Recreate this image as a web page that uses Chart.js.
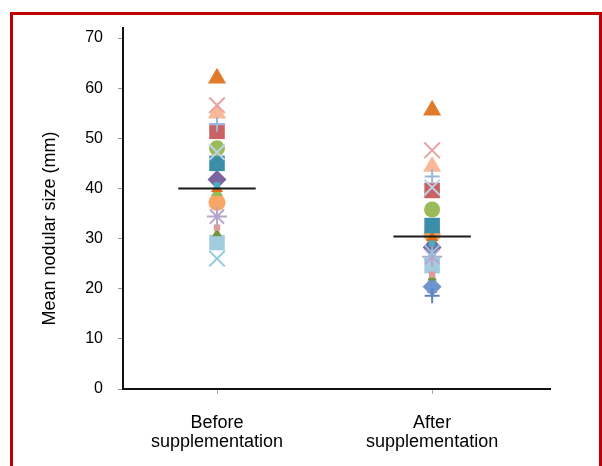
<!DOCTYPE html>
<html>
<head>
<meta charset="utf-8">
<script src="https://cdn.jsdelivr.net/npm/chart.js@4"></script>
<style>
    html, body { margin: 0; padding: 0; background: #fff; }
    #wrap { position: relative; width: 602px; height: 466px; overflow: hidden; }
    #frame {
        position: absolute; left: 10px; top: 12px; width: 592px; height: 470px;
        border: 3px solid #c00000; box-sizing: border-box; pointer-events: none;
    }
</style>
</head>
<body>
<div id="wrap">
    <canvas id="chart" width="602" height="466"></canvas>
    <div id="frame"></div>
</div>
<script>
// Mean nodular size, before vs after supplementation (one marker per subject)

const categoryLabels = [['Before', 'supplementation'], ['After', 'supplementation']];
const yTitle = 'Mean nodular size (mm)';
const yTicks = [0, 10, 20, 30, 40, 50, 60, 70];

// listed top-most first (Chart.js draws dataset 0 last)
const beforeValues = [52.8, 56.6, 47.2, 26.0, 34.4, null, 62.0, 55.0, 51.4, 48.0, 45.0, 40.6, 40.0, 41.8, 39.2, 37.2, 32.2, 31.0, 29.2, null, null];
const afterValues  = [42.4, 47.6, 40.2, 27.2, 26.4, 18.6, 55.6, 44.4, 39.6, 35.8, 32.6, 29.0, 30.2, 28.2, 29.6, 30.8, 22.8, 22.2, 24.6, 20.4, 19.8];
const medianValues = [40.0, 30.4];

const markerShapes = ['cross', 'crossRot', 'crossRot', 'crossRot', 'star', 'cross', 'triangle', 'triangle', 'rect', 'circle',
    'rect', 'rect', 'triangle', 'rectRot', 'triangle', 'circle', 'rect', 'triangle', 'rect', 'rectRot', 'triangle'];
const markerColors = ['#9ab7db', '#e8a3a3', '#bcd2ea', '#8fcadb', '#b6a6cb', '#5d82c2', '#e07b2b', '#fab896', '#c96363', '#9bbb59',
    '#3b8ea8', '#4bacc6', '#e36f1a', '#7b64a0', '#9bbb59', '#f9a665', '#dd9a98', '#77933c', '#a2cce0', '#6e95ce', '#c0504d'];
const markerSizes = [7.5, 11, 11, 11, 10, 7.5, 10.5, 10.5, 11, 8, 11, 4.5, 7, 9.5, 7, 8.5, 4.5, 5.5, 11, 9.5, 6];

const lineShapes = ['cross', 'crossRot', 'star'];
const medianHalfWidth = 0.18;

Chart.defaults.font.family = '"Liberation Sans", Arial, sans-serif';
Chart.defaults.color = '#000';

const datasets = [];

medianValues.forEach((m, i) => {
    datasets.push({
        type: 'line',
        data: [{ x: i + 1 - medianHalfWidth, y: m }, { x: i + 1 + medianHalfWidth, y: m }],
        borderColor: '#1a1a1a',
        borderWidth: 2,
        pointRadius: 0,
    });
});

beforeValues.forEach((b, i) => {
    const isLine = lineShapes.includes(markerShapes[i]);
    datasets.push({
        type: 'scatter',
        data: [{ x: 1, y: b }, { x: 2, y: afterValues[i] }],
        pointStyle: markerShapes[i],
        pointRadius: markerSizes[i],
        pointHoverRadius: markerSizes[i],
        backgroundColor: markerColors[i],
        borderColor: markerColors[i],
        borderWidth: isLine ? 2 : 0,
    });
});

const yTitlePlugin = {
    id: 'yTitle',
    afterDraw(chart) {
        const ctx = chart.ctx;
        const midY = (chart.chartArea.top + chart.chartArea.bottom) / 2 + 20;
        ctx.save();
        ctx.translate(50, midY);
        ctx.rotate(-Math.PI / 2);
        ctx.font = '18px "Liberation Sans", Arial, sans-serif';
        ctx.fillStyle = '#000';
        ctx.textAlign = 'center';
        ctx.textBaseline = 'middle';
        ctx.fillText(yTitle, 0, 0);
        ctx.restore();
    }
};

new Chart(document.getElementById('chart'), {
    data: { datasets },
    plugins: [yTitlePlugin],
    options: {
        responsive: false,
        animation: false,
        layout: { padding: { top: 28, right: 52, bottom: 0, left: 0 } },
        plugins: { legend: { display: false }, tooltip: { enabled: false } },
        scales: {
            x: {
                type: 'linear',
                min: 0.563,
                max: 2.548,
                afterBuildTicks: scale => { scale.ticks = [{ value: 1 }, { value: 2 }]; },
                afterFit: scale => { scale.height = 77; },
                ticks: {
                    callback: v => categoryLabels[Math.round(v) - 1],
                    font: { size: 18, lineHeight: 1.05 },
                    padding: 20,
                    maxRotation: 0,
                    autoSkip: false,
                },
                grid: { drawOnChartArea: false, tickLength: 5, color: '#aaa' },
                border: { color: '#111', width: 2 },
            },
            y: {
                min: 0,
                max: 72,
                afterBuildTicks: scale => { scale.ticks = yTicks.map(v => ({ value: v })); },
                afterFit: scale => { scale.width = 123; },
                ticks: { font: { size: 16 }, padding: 15 },
                grid: { drawOnChartArea: false, tickLength: 5, color: '#999' },
                border: { color: '#111', width: 2 },
            },
        },
    },
});
</script>
</body>
</html>
